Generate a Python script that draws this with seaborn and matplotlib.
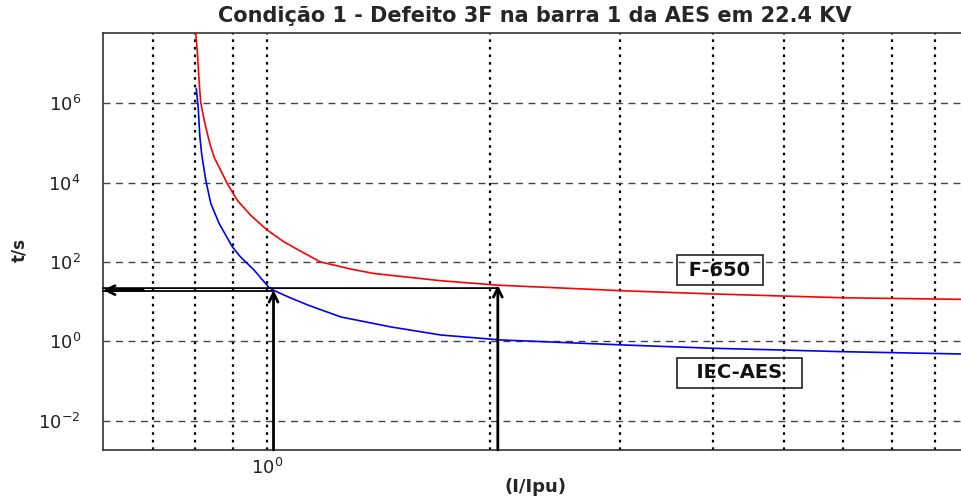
import pandas as pd
import matplotlib
matplotlib.use("Agg")
import matplotlib.pyplot as plt
import matplotlib.ticker as mticker
import seaborn as sns

# curvas (I/Ipu, t em s)
f650_i = [0.800, 0.805, 0.809, 0.813, 0.822, 0.830, 0.839, 0.849, 0.865, 0.883, 0.911, 0.950, 1.0,
          1.053, 1.098, 1.18, 1.298, 1.395, 1.717, 2.047, 3.02, 4.0, 5.0, 6.0, 8.66]
f650_t = [7e7, 1.8e7, 3.8e6, 1.08e6, 3.75e5, 1.73e5, 8.0e4, 4.1e4, 2.07e4, 9.5e3, 3.6e3, 1.5e3, 636,
          323, 208, 100, 66, 51, 33.6, 26, 18.8, 15.6, 13.8, 12.5, 11.4]

iec_i = [0.802, 0.807, 0.811, 0.816, 0.826, 0.839, 0.861, 0.897, 0.920, 0.960, 1.005, 1.019, 1.066,
         1.135, 1.258, 1.47, 1.717, 2.07, 3.02, 4.0, 5.0, 6.0, 8.66]
iec_t = [2.36e6, 7.4e5, 1.43e5, 4.9e4, 1.16e4, 3.0e3, 938, 242, 135, 62.5, 23, 19.5, 13.3,
         8.2, 4.1, 2.3, 1.44, 1.08, 0.81, 0.667, 0.60, 0.547, 0.479]

# pontos de operacao (setas)
op_i = [1.02, 2.05]
op_t = [19.5, 26.0]
op_h = [18.5, 21.9]

curve_names = ["F-650", "IEC-AES"]
label_txt = [" F-650 ", "  IEC-AES  "]
label_pos = [(4.09, 62.5), (4.35, 0.159)]

df = pd.concat([
    pd.DataFrame({"I": f650_i, "t": f650_t, "curva": "F-650"}),
    pd.DataFrame({"I": iec_i, "t": iec_t, "curva": "IEC-AES"}),
])

sns.set_style("white")
plt.rcParams["font.family"] = ["DejaVu Sans"]
plt.rcParams["mathtext.default"] = "regular"

fig = plt.figure(figsize=(9.61, 5.0), dpi=100)
ax = fig.add_axes([0.1072, 0.10, 0.9407, 0.834])

sns.lineplot(data=df, x="I", y="t", hue="curva", palette={"F-650": "#ff0000", "IEC-AES": "#0000ff"},
             estimator=None, sort=False, lw=1.2, legend=False, ax=ax, zorder=3)

ax.set_xscale("log")
ax.set_yscale("log")
ax.set_xlim(0.6, 10)
ymin, ymax = 10 ** -2.74, 10 ** 7.77
ax.set_ylim(ymin, ymax)

ax.yaxis.set_major_locator(mticker.FixedLocator([1e-2, 1e0, 1e2, 1e4, 1e6]))
ax.yaxis.set_minor_locator(mticker.NullLocator())
ax.yaxis.set_major_formatter(mticker.LogFormatterSciNotation())
ax.xaxis.set_major_locator(mticker.FixedLocator([1.0]))
ax.xaxis.set_minor_locator(mticker.FixedLocator([0.7, 0.8, 0.9, 2, 3, 4, 5, 6, 7, 8, 9]))
ax.xaxis.set_major_formatter(mticker.LogFormatterSciNotation())
ax.xaxis.set_minor_formatter(mticker.NullFormatter())

ax.tick_params(axis="both", which="both", direction="in", length=4, width=0.8, colors="#333333",
               labelcolor="#222222", labelsize=13)
ax.tick_params(axis="y", pad=16)
ax.tick_params(axis="x", pad=6)
ax.tick_params(axis="x", which="minor", length=0)

ax.grid(True, axis="y", which="major", ls=(0, (5, 4)), color="#444444", lw=1.0)
ax.grid(True, axis="x", which="both", ls=(0, (1.2, 2.2)), color="black", lw=1.6)

for s in ["left", "bottom", "top"]:
    ax.spines[s].set_color("#333333")
    ax.spines[s].set_linewidth(1.2)
ax.spines["right"].set_visible(False)

# setas: de baixo ate a curva e da curva ate o eixo t
arrow_kw = dict(arrowstyle="->", color="black", lw=2.0, mutation_scale=16, shrinkA=0, shrinkB=0)
line_kw = dict(arrowstyle="-", color="black", lw=1.3, shrinkA=0, shrinkB=0)
for xi, ti, hi in zip(op_i, op_t, op_h):
    ax.annotate("", xy=(xi, ti), xytext=(xi, ymin), arrowprops=arrow_kw, zorder=4)
    ax.annotate("", xy=(0.6, hi), xytext=(xi, hi), arrowprops=line_kw, zorder=4)
ax.annotate("", xy=(0.6, op_h[0] * 1.05), xytext=(0.68, op_h[0] * 1.05), arrowprops=arrow_kw)

for txt, (lx, ly) in zip(label_txt, label_pos):
    ax.text(lx, ly, txt, ha="center", va="center", fontsize=14, fontweight="bold",
            color="#111111", bbox=dict(boxstyle="square,pad=0.3", fc="none", ec="#222222", lw=1.2))

ax.set_xlabel("")
ax.set_ylabel("t/s", fontsize=12, fontweight="bold")
ax.yaxis.set_label_coords(28 / 961, 0.5, transform=fig.transFigure)
fig.text(535 / 961, 1 - 487 / 500, "(I/Ipu)", ha="center", va="center", fontsize=13, fontweight="bold")
fig.text(535 / 961, 1 - 16 / 500, "Condição 1 - Defeito 3F na barra 1 da AES em 22.4 KV",
         ha="center", va="center", fontsize=15, fontweight="bold")
fig.savefig("out.png", dpi=100)
